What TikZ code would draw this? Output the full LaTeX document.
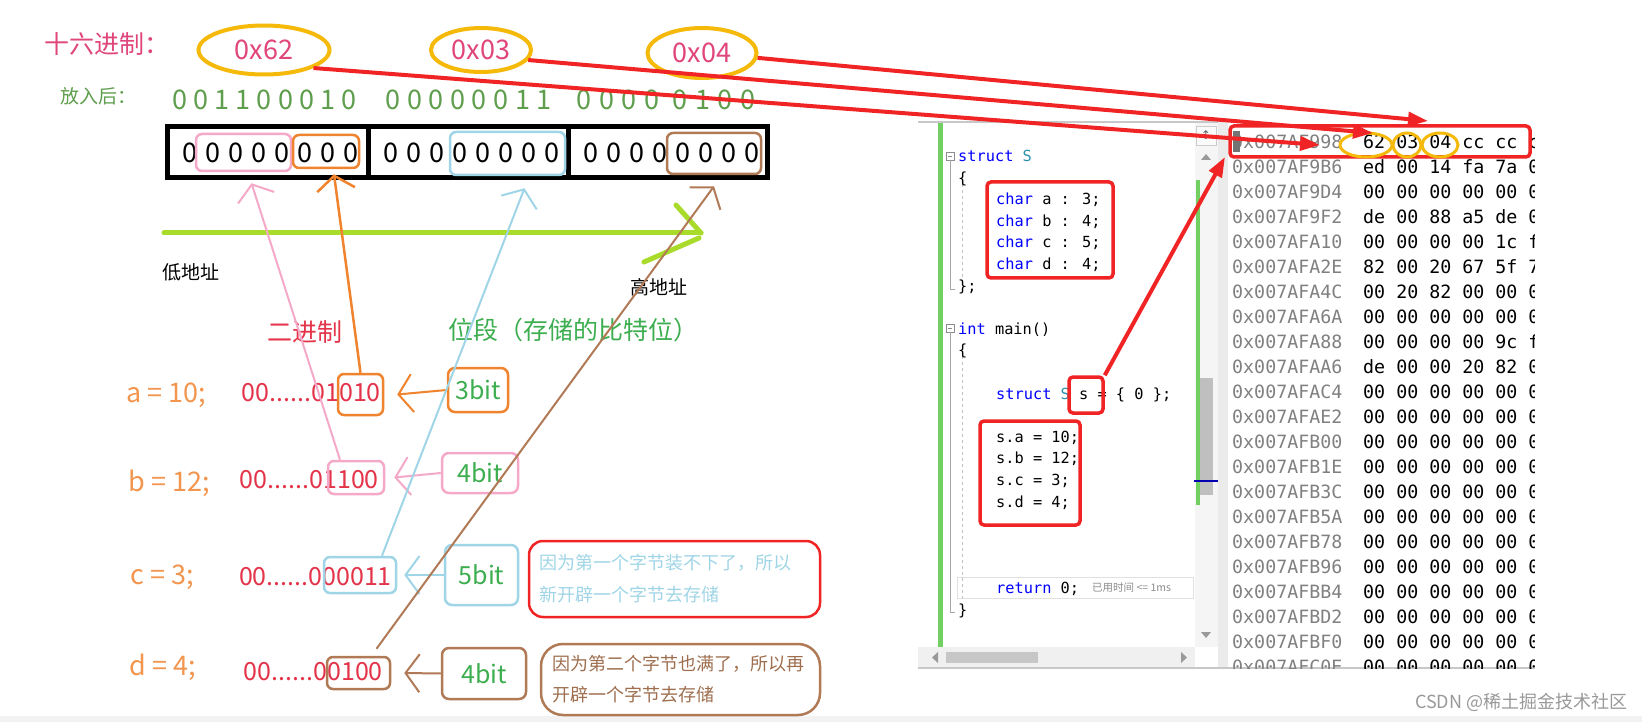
\documentclass[tikz,border=0pt]{standalone}
\usepackage{fontspec}
\setmainfont{Noto Sans CJK SC}
\newfontfamily\codefont{DejaVu Sans Mono}
\newfontfamily\symfont{DejaVu Sans}
\usetikzlibrary{arrows.meta,shapes.geometric}

\definecolor{hexpink}{HTML}{E0457B}
\definecolor{ringgold}{HTML}{F5B90A}
\definecolor{putgreen}{HTML}{5E9E4C}
\definecolor{segpink}{HTML}{F4A9C8}
\definecolor{segorange}{HTML}{F0832E}
\definecolor{segblue}{HTML}{9FD5E6}
\definecolor{segbrown}{HTML}{B07A56}
\definecolor{addrlime}{HTML}{A9DC2A}
\definecolor{binred}{HTML}{E3344A}
\definecolor{bitgreen}{HTML}{3DAE50}
\definecolor{valorange}{HTML}{F2954E}
\definecolor{markred}{HTML}{F02424}
\definecolor{kwblue}{HTML}{0000FF}
\definecolor{typeteal}{HTML}{2B91AF}
\definecolor{addrgray}{HTML}{808080}
\definecolor{uigray}{HTML}{C8C8C8}
\definecolor{barsgreen}{HTML}{72D062}

\tikzset{
	fs/.style={font=\fontsize{#1}{#1}\selectfont, inner sep=0pt},
	ring/.style={ellipse, draw=ringgold, line width=4pt, inner sep=0pt, fs=27, text=hexpink},
	seg/.style={draw=#1, rounded corners=6pt, line width=2.5pt, inner sep=0pt},
	pen/.style={draw=#1, line width=2pt, -{Straight Barb[length=14pt,width=38pt]}},
	bitbox/.style={draw=#1, rounded corners=7pt, line width=2.5pt, fs=25, text=bitgreen},
	redmark/.style={draw=markred, line width=3.5pt, rounded corners=4pt},
	bigarrow/.style={draw=markred, line width=4pt, -{Triangle[length=20pt,width=14pt]}},
	code/.style={anchor=west, inner sep=0pt, font=\codefont\fontsize{15.3}{15.3}\selectfont, text height=11pt, text depth=0pt},
	mem/.style={anchor=west, inner sep=0pt, font=\codefont\fontsize{18.3}{18.3}\selectfont, text height=13pt, text depth=0pt},
}

\begin{document}
\begin{tikzpicture}[x=1pt, y=-1pt]
	\useasboundingbox (0,0) rectangle (1642,722);
	\fill[white] (0,0) rectangle (1642,722);
	\fill[black!5] (0,716) rectangle (1642,722);

	% hex bytes
	\node[fs=25, text=hexpink] (hexlbl) at (107,44) {十六进制：};
	\node[ring, minimum width=131pt, minimum height=49pt] (e62) at (264,50) {0x62};
	\node[ring, minimum width=100pt, minimum height=44pt] (e03) at (481,50) {0x03};
	\node[ring, minimum width=109pt, minimum height=50pt] (e04) at (702,53) {0x04};

	% bits after storing
	\node[fs=19, text=putgreen] (putlbl) at (98,96) {放入后：};
	\foreach \d [count=\i] in {0,0,1,1,0,0,0,1,0}
		\node[fs=27, text=putgreen] at (158.3+21.2*\i, 100) {\d};
	\foreach \d [count=\i] in {0,0,0,0,0,0,1,1}
		\node[fs=27, text=putgreen] at (371.4+21.6*\i, 100) {\d};
	\foreach \x/\d in {584/0, 606.5/0, 629/0, 651.5/0, 680/0, 702.5/1, 725/0, 747.5/0}
		\node[fs=27, text=putgreen] at (\x, 100) {\d};

	% three bytes
	\draw[line width=5pt] (167.5,126.5) rectangle (767.5,177.5);
	\draw[line width=5pt] (368.5,126.5) -- (368.5,177.5);
	\draw[line width=5pt] (568.5,126.5) -- (568.5,177.5);
	\foreach \bx in {190,391,591}
		\foreach \k in {0,...,7}
			\node[fs=27] at (\bx+23*\k, 153) {0};
	\node[seg=segpink, minimum width=95pt, minimum height=37pt] (segb) at (243.5,152.5) {};
	\node[seg=segorange, minimum width=66pt, minimum height=33pt] (sega) at (326,151.5) {};
	\node[seg=segblue, minimum width=115pt, minimum height=43pt] (segc) at (507.5,153.5) {};
	\node[seg=segbrown, minimum width=94pt, minimum height=41pt] (segd) at (714,153.5) {};

	% address direction
	\coordinate (lowaddr) at (164,233);
	\coordinate (highaddr) at (701,233);
	\draw[addrlime, line width=5pt, line cap=round] (lowaddr) -- (highaddr);
	\draw[addrlime, line width=5pt, line cap=round] (676,205) -- (highaddr) (644,262) -- (699,238);
	\node[fs=19] (lowlbl) at (191,272) {低地址};
	\node[fs=19] (highlbl) at (659,287) {高地址};

	\node[fs=25, text=binred] (binlbl) at (305,332) {二进制};
	\node[fs=25, text=bitgreen] (seglbl) at (573,330) {位段（存储的比特位）};

	% member values
	\node[fs=27, text=valorange] (vala) at (166,395) {a = 10;};
	\node[fs=25, text=binred, anchor=east] (txta) at (381,393) {00......01010};
	\node[seg=segorange, minimum width=45pt, minimum height=41pt] (bina) at (360.5,394.5) {};
	\node[bitbox=segorange, minimum width=60pt, minimum height=44pt] (bita) at (478,390) {3bit};

	\node[fs=27, text=valorange] (valb) at (169,483) {b = 12;};
	\node[fs=25, text=binred, anchor=east] (txtb) at (379,480) {00......01100};
	\node[seg=segpink, minimum width=56pt, minimum height=33pt] (binb) at (356,477.5) {};
	\node[bitbox=segpink, minimum width=76pt, minimum height=40pt] (bitb) at (480,473) {4bit};

	\node[fs=27, text=valorange] (valc) at (162,577) {c = 3;};
	\node[fs=25, text=binred, anchor=east] (txtc) at (392,577) {00......000011};
	\node[seg=segblue, minimum width=72pt, minimum height=36pt] (binc) at (360,575) {};
	\node[bitbox=segblue, minimum width=73pt, minimum height=60pt] (bitc) at (481.5,575) {5bit};
	\node[draw=markred, line width=2.5pt, rounded corners=14pt, minimum width=291pt, minimum height=76pt,
		fs=18, text=segblue, align=left, text width=270pt, font=\fontsize{18}{32}\selectfont] (notec) at (674.5,579)
		{因为第一个字节装不下了，所以\\新开辟一个字节去存储};

	\node[fs=27, text=valorange] (vald) at (163,667) {d = 4;};
	\node[fs=25, text=binred, anchor=east] (txtd) at (383,672) {00......00100};
	\node[seg=segbrown, minimum width=63pt, minimum height=32pt] (bind) at (358.5,673) {};
	\node[bitbox=segbrown, minimum width=84pt, minimum height=51pt] (bitd) at (484,673.5) {4bit};
	\node[draw=segbrown, line width=2.5pt, rounded corners=22pt, minimum width=279pt, minimum height=71pt,
		fs=18, text=segbrown!90!black, align=left, text width=257pt, font=\fontsize{18}{31}\selectfont] (noted) at (680.5,679.5)
		{因为第二个字节也满了，所以再\\开辟一个字节去存储};

	% bit widths into values
	\draw[pen=segorange] (bita.west) -- ([xshift=13pt]bina.east);
	\draw[pen=segpink] (bitb.west) -- ([xshift=9pt]binb.east);
	\draw[pen=segblue] (bitc.west) -- ([xshift=7pt]binc.east);
	\draw[pen=segbrown] (bitd.west) -- ([xshift=13pt]bind.east);

	% values into bytes
	\draw[pen=segpink] ([xshift=-16pt]binb.north) -- ([xshift=8pt,yshift=-11pt]segb.south);
	\draw[pen=segorange, line width=2.5pt] (bina.north) -- ([xshift=8pt,yshift=-5pt]sega.south);
	\draw[pen=segblue] ([xshift=22pt]binc.north) -- ([xshift=17pt,yshift=-12pt]segc.south);
	\draw[pen=segbrown] ([xshift=18pt,yshift=7pt]bind.north) -- ([yshift=-11pt]segd.south);

	% editor window
	\draw[uigray, line width=1.5pt] (918,122) -- (1228,122);
	\fill[barsgreen] (938,123) rectangle (943,647);
	\fill[black!4] (1195,123) rectangle (1218,647);
	\draw[black!20, fill=black!2] (1196,126) rectangle (1216,145);
	\node[font=\symfont\fontsize{12}{12}\selectfont, text=black!60, inner sep=0pt] (updown) at (1206,135) {↕};
	\fill[black!40] (1201,160) -- (1211,160) -- (1206,154) -- cycle;
	\fill[black!40] (1201,632) -- (1211,632) -- (1206,638) -- cycle;
	\fill[barsgreen] (1196,180) rectangle (1200,505);
	\fill[black!25] (1200,378) rectangle (1213,495);
	\draw[blue!70!black, line width=1.5pt] (1194,481) -- (1218,481);
	\fill[black!8] (1218,122) rectangle (1228,668);
	\fill[black!6] (918,647) rectangle (1195,668);
	\fill[black!22] (946,652) rectangle (1038,663);
	\fill[black!40] (938,652) -- (938,663) -- (932,657.5) -- cycle;
	\fill[black!40] (1181,652) -- (1181,663) -- (1187,657.5) -- cycle;
	\draw[uigray, line width=2pt] (918,668) -- (1535,668);

	\foreach \yy/\ye in {156/289, 328/612} {
		\draw[black!45, line width=0.8pt] (946,\yy-4) rectangle (954,\yy+4);
		\draw[black!45, line width=0.8pt] (948,\yy) -- (952,\yy);
		\draw[black!35, line width=0.8pt] (950,\yy+4) -- (950,\ye) -- (955,\ye);
	}
	\draw[black!25, dashed, line width=0.6pt] (962,184) -- (962,280) (962,356) -- (962,600);
	\draw[black!12, line width=1pt] (957,577) rectangle (1193,598);

	% code
	\node[code] at (958,156) {\textcolor{kwblue}{struct} \textcolor{typeteal}{S}};
	\node[code] at (958,177.6) {\{};
	\foreach \m/\w [count=\i from 2] in {a/3,b/4,c/5,d/4}
		\node[code] at (996,156+21.6*\i) {\textcolor{kwblue}{char} \m{} : \w;};
	\node[code] at (958,285.6) {\};};
	\node[code] at (958,328.8) {\textcolor{kwblue}{int} main()};
	\node[code] at (958,350.4) {\{};
	\node[code] (sline) at (996,393.6) {\textcolor{kwblue}{struct} \textcolor{typeteal}{S} s = \{ 0 \};};
	\foreach \m/\w [count=\i from 13] in {a/10,b/12,c/3,d/4}
		\node[code] at (996,156+21.6*\i) {s.\m{} = \w;};
	\node[code] at (996,588) {\textcolor{kwblue}{return} 0;};
	\node[fs=10.5, text=black!45, anchor=west] (elapsed) at (1092,588) {已用时间 <= 1ms};
	\node[code] at (958,609.6) {\}};

	\draw[redmark] (987,182) rectangle (1113,278);
	\node[redmark, minimum width=34pt, minimum height=36pt] (sbox) at (1086,395) {};
	\draw[redmark] (980,421) rectangle (1080,525);

	% memory window
	\begin{scope}
		\clip (1228,122) rectangle (1534,668);
		\foreach \addr/\bytes [count=\r from 0] in {
			0x007AF998/62 03 04 cc cc cc, 0x007AF9B6/ed 00 14 fa 7a 00,
			0x007AF9D4/00 00 00 00 00 00, 0x007AF9F2/de 00 88 a5 de 00,
			0x007AFA10/00 00 00 00 1c fe, 0x007AFA2E/82 00 20 67 5f 7f,
			0x007AFA4C/00 20 82 00 00 00, 0x007AFA6A/00 00 00 00 00 00,
			0x007AFA88/00 00 00 00 9c fe, 0x007AFAA6/de 00 00 20 82 00,
			0x007AFAC4/00 00 00 00 00 00, 0x007AFAE2/00 00 00 00 00 00,
			0x007AFB00/00 00 00 00 00 00, 0x007AFB1E/00 00 00 00 00 00,
			0x007AFB3C/00 00 00 00 00 00, 0x007AFB5A/00 00 00 00 00 00,
			0x007AFB78/00 00 00 00 00 00, 0x007AFB96/00 00 00 00 00 00,
			0x007AFBB4/00 00 00 00 00 00, 0x007AFBD2/00 00 00 00 00 00,
			0x007AFBF0/00 00 00 00 00 00, 0x007AFC0E/00 00 00 00 00 00}
		{
			\node[mem, text=addrgray] at (1232,142+25*\r) {\addr};
			\node[mem] at (1363,142+25*\r) {\bytes};
		}
		\fill[black!55] (1233,131) rectangle (1240,152);
	\end{scope}
	\draw[redmark] (1230,126) rectangle (1530,157);
	\node[ring, line width=3pt, minimum width=52pt, minimum height=24pt] (m62) at (1366,145) {};
	\node[ring, line width=3pt, minimum width=28pt, minimum height=24pt] (m03) at (1407,145) {};
	\node[ring, line width=3pt, minimum width=36pt, minimum height=24pt] (m04) at (1440,145) {};

	% hex bytes into memory
	\coordinate (to62) at (1320,145);
	\coordinate (to03) at (1373,133);
	\coordinate (to04) at (1428,121);
	\coordinate (tomem) at (1225,157);
	\draw[bigarrow] (e62.-20) -- (to62);
	\draw[bigarrow] (e03.-12) -- (to03);
	\draw[bigarrow] (e04.-5) -- (to04);
	\draw[bigarrow] (sbox.north east) -- (tomem);

	\node[fs=18, text=black!40, anchor=west] (mark) at (1415,702) {CSDN @稀土掘金技术社区};
\end{tikzpicture}
\end{document}
